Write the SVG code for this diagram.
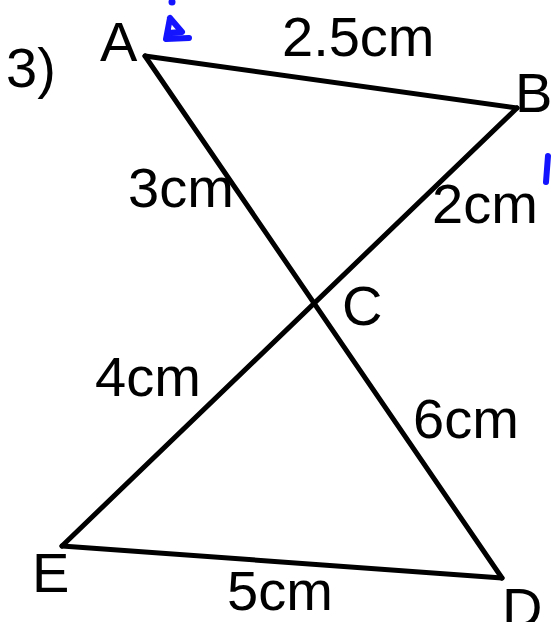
<svg xmlns="http://www.w3.org/2000/svg" width="551" height="622" viewBox="0 0 551 622">
<style>
.t{font-family:"Liberation Sans",Arial,sans-serif;font-size:56px;fill:#000}
.e{stroke:#000;stroke-width:5;fill:none;stroke-linecap:round;stroke-linejoin:round}
.ink{stroke:#1414ff;stroke-width:6;fill:none;stroke-linecap:round;stroke-linejoin:round}
</style>
<rect width="551" height="622" fill="#fff"/>
<g id="connectors">
<line class="e" x1="145" y1="56" x2="517" y2="108"/>
<line class="e" x1="145" y1="56" x2="502" y2="578"/>
<line class="e" x1="517" y1="108" x2="62" y2="546"/>
<line class="e" x1="62" y1="546" x2="502" y2="578"/>
</g>
<g id="label"><text class="t" x="6" y="87">3)</text></g>
<g id="A"><text class="t" x="100" y="61">A</text></g>
<g id="B"><text class="t" x="515" y="112">B</text></g>
<g id="C"><text class="t" x="342" y="325">C</text></g>
<g id="D"><text class="t" x="502" y="627">D</text></g>
<g id="E"><text class="t" x="32" y="592">E</text></g>
<g id="lengths">
<text class="t" x="282" y="56">2.5cm</text>
<text class="t" x="128" y="207">3cm</text>
<text class="t" x="432" y="223">2cm</text>
<text class="t" x="95" y="396">4cm</text>
<text class="t" x="413" y="438">6cm</text>
<text class="t" x="227" y="610">5cm</text>
</g>
<g id="ink">
<circle cx="172" cy="2" r="3.5" fill="#1414ff"/>
<path class="ink" d="M170,18 L166,39 L189,38 M170,18 L182,32 L168,33"/>
<path class="ink" d="M548,156 L546,182"/>
</g>
</svg>
